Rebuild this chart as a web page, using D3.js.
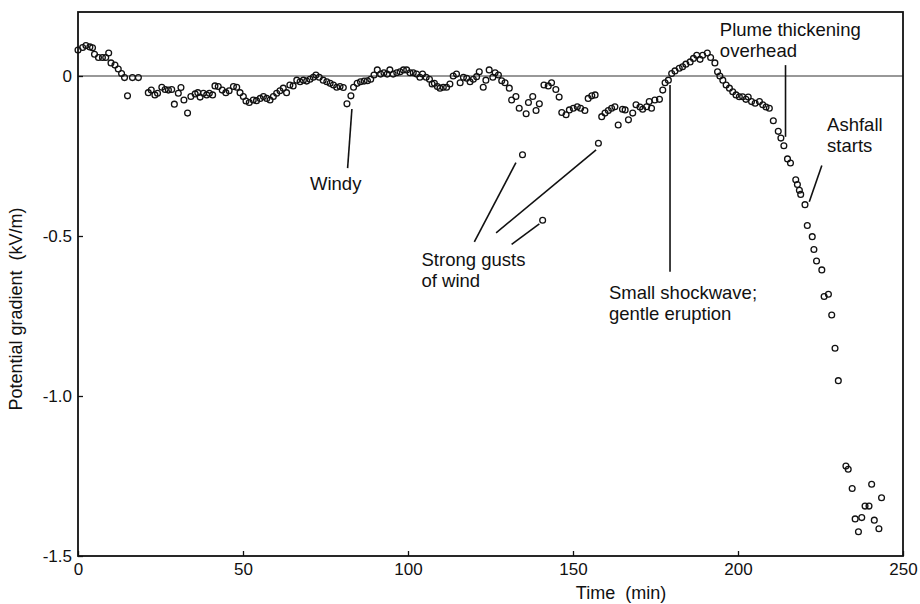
<!DOCTYPE html>
<html>
<head>
<meta charset="utf-8">
<script src="https://cdn.jsdelivr.net/npm/d3@7"></script>
<style>
  body { margin: 0; background: #fff; }
  svg text { font-family: "Liberation Sans", Arial, sans-serif; fill: #111; }
</style>
</head>
<body>
<div id="chart"></div>
<script>
// time (min) of each reading
var times = [
  0.0, 1.4, 2.4, 3.6, 4.4, 5.0, 6.2, 7.4, 8.4, 9.3, 10.0, 11.2, 12.2, 13.2, 14.1, 15.0, 16.5, 18.3,
  21.3, 22.2, 23.3, 24.1, 25.4, 26.4, 27.4, 28.4, 29.2, 30.4, 31.2, 32.1, 33.2, 34.2, 35.5, 36.3,
  37.0, 38.0, 39.0, 39.8, 40.8, 41.5, 42.5, 43.7, 44.8, 45.8, 47.1, 48.1, 49.1, 50.1, 50.9, 51.9,
  53.1, 54.1, 55.2, 56.2, 57.2, 58.2, 59.2, 60.2, 61.2, 62.2, 63.2, 64.2, 65.2, 66.3, 67.3, 68.3,
  69.3, 70.3, 71.3, 72.1, 73.1, 74.3, 75.4, 76.4, 77.4, 78.4, 79.4, 80.4, 81.5, 82.7, 83.5, 84.6,
  85.6, 86.7, 87.7, 88.7, 89.7, 90.7, 91.7, 92.7, 93.7, 94.5, 95.5, 96.6, 97.6, 98.6, 99.6, 100.6,
  101.6, 102.6, 103.6, 104.4, 105.5, 106.5, 107.3, 108.0, 108.9, 109.7, 110.7, 111.7, 112.7, 113.7,
  114.7, 115.8, 116.8, 117.8, 118.8, 119.8, 120.8, 121.6, 122.8, 123.6, 124.6, 125.7, 126.4, 127.4,
  128.4, 129.4, 130.7, 131.4, 132.7, 133.7, 134.7, 135.8, 136.5, 137.8, 138.8, 139.8, 140.8, 141.2,
  142.5, 143.5, 144.8, 145.8, 146.6, 147.9, 148.9, 150.1, 151.3, 152.3, 153.6, 154.6, 155.7, 156.7,
  157.7, 158.7, 159.7, 160.7, 161.7, 162.7, 163.7, 165.0, 165.8, 166.8, 168.1, 169.1, 170.3, 171.1,
  172.3, 173.1, 173.8, 174.8, 176.2, 177.2, 177.9, 178.9, 179.9, 180.9, 182.2, 183.2, 184.2, 185.5,
  186.5, 187.5, 188.5, 189.3, 190.7, 191.7, 193.0, 193.8, 194.5, 195.4, 196.4, 197.4, 198.4, 199.4,
  200.4, 201.4, 202.4, 203.1, 204.1, 205.2, 206.5, 207.5, 208.5, 209.5, 210.7, 212.2, 213.0, 213.9,
  215.0, 215.9, 217.5, 218.0, 218.6, 219.0, 220.3, 221.0, 222.5, 223.0, 223.8, 225.4, 226.1, 227.4,
  228.4, 229.4, 230.4, 232.7, 233.4, 234.6, 235.5, 236.5, 237.5, 238.5, 239.7, 240.5, 241.3, 242.7,
  243.5
];

// potential gradient (kV/m) of each reading
var gradient = [
  0.081, 0.089, 0.095, 0.091, 0.088, 0.068, 0.058, 0.058, 0.058, 0.072, 0.041, 0.034, 0.022, 0.008, -0.005, -0.062, -0.005, -0.005,
  -0.052, -0.044, -0.059, -0.054, -0.035, -0.042, -0.044, -0.042, -0.088, -0.054, -0.036, -0.075, -0.116, -0.064, -0.056, -0.052,
  -0.066, -0.054, -0.059, -0.054, -0.059, -0.031, -0.033, -0.044, -0.052, -0.046, -0.033, -0.035, -0.052, -0.064, -0.078, -0.083,
  -0.075, -0.077, -0.070, -0.064, -0.070, -0.075, -0.064, -0.054, -0.046, -0.038, -0.052, -0.028, -0.031, -0.013, -0.018, -0.013,
  -0.016, -0.010, -0.004, 0.003, -0.004, -0.013, -0.018, -0.023, -0.028, -0.035, -0.033, -0.036, -0.087, -0.062, -0.035, -0.023,
  -0.018, -0.016, -0.015, -0.010, 0.003, 0.019, 0.006, 0.010, 0.006, 0.019, 0.006, 0.010, 0.013, 0.019, 0.019, 0.010,
  0.010, 0.006, -0.004, 0.006, -0.004, -0.010, -0.025, -0.023, -0.033, -0.038, -0.035, -0.035, -0.025, 0.000,
  0.006, -0.021, -0.004, -0.007, -0.018, -0.010, -0.002, 0.013, -0.035, -0.013, 0.019, -0.004, 0.010, 0.003,
  -0.015, -0.021, -0.038, -0.075, -0.064, -0.101, -0.246, -0.118, -0.083, -0.064, -0.108, -0.087, -0.451, -0.028,
  -0.031, -0.021, -0.042, -0.066, -0.114, -0.121, -0.106, -0.101, -0.096, -0.101, -0.108, -0.070, -0.062, -0.059,
  -0.210, -0.127, -0.116, -0.108, -0.101, -0.096, -0.153, -0.104, -0.106, -0.137, -0.116, -0.090, -0.097, -0.104,
  -0.096, -0.080, -0.101, -0.075, -0.073, -0.044, -0.021, -0.013, 0.008, 0.016, 0.024, 0.029, 0.037, 0.044,
  0.055, 0.065, 0.052, 0.065, 0.072, 0.058, 0.041, 0.013, 0.000, -0.013, -0.028, -0.038, -0.049, -0.059,
  -0.065, -0.065, -0.073, -0.066, -0.080, -0.085, -0.080, -0.090, -0.097, -0.101, -0.140, -0.173, -0.194, -0.218,
  -0.259, -0.272, -0.324, -0.339, -0.357, -0.370, -0.402, -0.467, -0.502, -0.542, -0.578, -0.606, -0.689, -0.682,
  -0.747, -0.851, -0.952, -1.219, -1.229, -1.289, -1.384, -1.424, -1.380, -1.344, -1.344, -1.276, -1.388, -1.415,
  -1.318
];

var xTicks = [0, 50, 100, 150, 200, 250];
var yTicks = [0, -0.5, -1.0, -1.5];
var yTickLabels = ["0", "-0.5", "-1.0", "-1.5"];

// annotation pointers, in data units
var pointerX1 = [83.0, 132.7, 157.0, 139.8, 179.4, 214.4, 225.4];
var pointerY1 = [-0.103, -0.271, -0.231, -0.462, -0.028, 0.034, -0.280];
var pointerX2 = [81.7, 120.1, 126.7, 131.4, 179.4, 214.4, 221.6];
var pointerY2 = [-0.288, -0.518, -0.490, -0.526, -0.612, -0.190, -0.393];

var noteLines = [["Windy"], ["Strong gusts", "of wind"], ["Small shockwave;", "gentle eruption"],
                 ["Plume thickening", "overhead"], ["Ashfall", "starts"]];
var noteX = [70.3, 104.1, 160.9, 194.5, 227.0];
var noteY = [-0.356, -0.594, -0.697, 0.125, -0.172];

var W = 920, H = 604;
var margin = {left: 78, right: 17, top: 12, bottom: 48};

var svg = d3.select("#chart").append("svg")
    .attr("width", W)
    .attr("height", H);

var x = d3.scaleLinear().domain([0, 250]).range([margin.left, W - margin.right]);
var y = d3.scaleLinear().domain([-1.5, 0.2]).range([H - margin.bottom, margin.top]);

// zero line
svg.append("line")
    .attr("x1", x(0)).attr("x2", x(250))
    .attr("y1", y(0)).attr("y2", y(0))
    .attr("stroke", "#333").attr("stroke-width", 1.1);

// axes, ticks pointing inward
var xAxis = svg.append("g")
    .attr("transform", "translate(0," + y(-1.5) + ")")
    .call(d3.axisBottom(x).tickValues(xTicks).tickSizeInner(-5).tickSizeOuter(0).tickPadding(7));
var yAxis = svg.append("g")
    .attr("transform", "translate(" + x(0) + ",0)")
    .call(d3.axisLeft(y).tickValues(yTicks).tickSizeInner(-5).tickSizeOuter(0).tickPadding(6)
      .tickFormat(function(d, i){ return yTickLabels[i]; }));

[xAxis, yAxis].forEach(function(g){
  g.select(".domain").remove();
  g.selectAll(".tick line").attr("stroke", "#111").attr("stroke-width", 1.3);
  g.selectAll(".tick text").style("font-size", "17px").attr("fill", "#111");
});

// frame
svg.append("rect")
    .attr("x", x(0)).attr("y", y(0.2))
    .attr("width", x(250) - x(0)).attr("height", y(-1.5) - y(0.2))
    .attr("fill", "none").attr("stroke", "#111").attr("stroke-width", 1.8);

// data points
svg.selectAll("circle.pt")
    .data(times)
    .enter().append("circle")
    .attr("class", "pt")
    .attr("cx", function(d){ return x(d); })
    .attr("cy", function(d, i){ return y(gradient[i]); })
    .attr("r", 2.9)
    .attr("fill", "none")
    .attr("stroke", "#111")
    .attr("stroke-width", 1.3);

// pointer lines
svg.selectAll("line.pointer")
    .data(pointerX1)
    .enter().append("line")
    .attr("class", "pointer")
    .attr("x1", function(d){ return x(d); })
    .attr("y1", function(d, i){ return y(pointerY1[i]); })
    .attr("x2", function(d, i){ return x(pointerX2[i]); })
    .attr("y2", function(d, i){ return y(pointerY2[i]); })
    .attr("stroke", "#111")
    .attr("stroke-width", 1.6);

// notes
var notes = svg.selectAll("text.note")
    .data(noteLines)
    .enter().append("text")
    .attr("class", "note")
    .attr("x", function(d, i){ return x(noteX[i]); })
    .attr("y", function(d, i){ return y(noteY[i]); })
    .style("font-size", "18.5px");
notes.selectAll("tspan")
    .data(function(d, i){ return d.map(function(s){ return {s: s, i: i}; }); })
    .enter().append("tspan")
    .attr("x", function(d){ return x(noteX[d.i]); })
    .attr("dy", function(d, j){ return j === 0 ? 0 : 20.5; })
    .text(function(d){ return d.s; });

// axis titles
svg.append("text")
    .attr("x", 621).attr("y", 599)
    .attr("text-anchor", "middle")
    .style("font-size", "18px")
    .attr("xml:space", "preserve")
    .text("Time  (min)");

svg.append("text")
    .attr("transform", "translate(22," + 309 + ") rotate(-90)")
    .attr("text-anchor", "middle")
    .style("font-size", "18px")
    .attr("xml:space", "preserve")
    .text("Potential gradient  (kV/m)");
</script>
</body>
</html>
